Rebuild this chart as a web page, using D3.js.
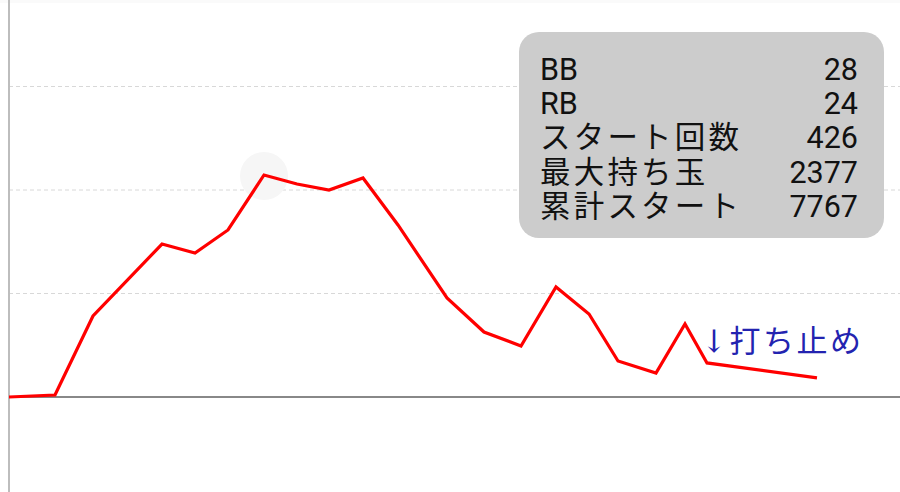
<!DOCTYPE html>
<html><head><meta charset="utf-8">
<script src="https://cdn.jsdelivr.net/npm/d3@7"></script>
<style>html,body{margin:0;padding:0;background:#fff;overflow:hidden}</style>
</head><body><svg id="c" width="900" height="492"></svg>
<script>
// Data (x: cumulative games, y: balls)
const games = [0, 460, 840, 1530, 1860, 2190, 2550, 2880, 3200, 3540, 3890, 4380, 4750, 5120, 5470, 5800, 6090, 6470, 6760, 6980, 8080];
const balls = [0, 19, 783, 1478, 1391, 1614, 2145, 2058, 2000, 2116, 1662, 957, 628, 493, 1063, 802, 348, 232, 705, 329, 184];
const gridTicks = [1000, 2000, 3000];
const infoLabels = ["BB", "RB", "スタート回数", "最大持ち玉", "累計スタート"];
const infoValues = ["28", "24", "426", "2377", "7767"];
const highlightIndex = 6;
const noteText = "↓打ち止め";
const noteIndex = 19;

const svg = d3.select("#c");
const x = d3.scaleLinear().domain([0, 8910]).range([9, 900]);
const y = d3.scaleLinear().domain([-1000, 4000]).range([500.5, -17]);

svg.append("rect").attr("x",0).attr("y",0).attr("width",900).attr("height",3).attr("fill","#fafafa");

// gridlines
svg.append("g").selectAll("line").data(gridTicks).join("line")
  .attr("x1", x(0)).attr("x2", 900)
  .attr("y1", d => y(d)).attr("y2", d => y(d))
  .attr("stroke", "#d8d8d8").attr("stroke-width", 1).attr("stroke-dasharray", "4,3");

// zero line
svg.append("line").attr("x1", x(0)).attr("x2", 900).attr("y1", y(0)).attr("y2", y(0))
  .attr("stroke", "#888888").attr("stroke-width", 2);
// vertical axis
svg.append("line").attr("x1", x(0)).attr("x2", x(0)).attr("y1", 0).attr("y2", 492)
  .attr("stroke", "#bdbdbd").attr("stroke-width", 2);

// highlight circle
svg.append("circle").attr("cx", x(games[highlightIndex])).attr("cy", y(balls[highlightIndex]) + 1)
  .attr("r", 24).attr("fill", "#f6f6f6");

const pts = games.map((g, i) => [g, balls[i]]);
svg.append("path").datum(pts)
  .attr("fill", "none").attr("stroke", "#ff0000").attr("stroke-width", 3.2)
  .attr("stroke-linejoin", "miter")
  .attr("d", d3.line().x(d => x(d[0])).y(d => y(d[1])));

// info box
const bx = 519, by = 32, bw = 365, bh = 206;
svg.append("rect").attr("x", bx).attr("y", by).attr("width", bw).attr("height", bh)
  .attr("rx", 20).attr("fill", "#cccccc");
const lineH = 34.2, base0 = 80;
const g = svg.append("g").attr("font-family", "Roboto, 'Noto Sans CJK JP', sans-serif").attr("font-size", 30.5).attr("fill", "#111");
g.selectAll("text.l").data(infoLabels).join("text").attr("class","l")
  .attr("x", 540).attr("y", (d, i) => base0 + i * lineH)
  .attr("letter-spacing", d => /[^\x00-\x7f]/.test(d) ? 3.2 : 0)
  .text(d => d);
g.selectAll("text.v").data(infoValues).join("text").attr("class","v")
  .attr("x", 858).attr("y", (d, i) => base0 + i * lineH).attr("text-anchor", "end")
  .text(d => d);

// annotation
svg.append("text").attr("x", x(games[noteIndex]) - 6).attr("y", 352)
  .attr("font-family", "'DejaVu Serif', 'Noto Sans CJK JP', serif").attr("font-size", 31)
  .attr("letter-spacing", 2.5)
  .attr("fill", "#2323b0").text(noteText);
</script></body></html>
